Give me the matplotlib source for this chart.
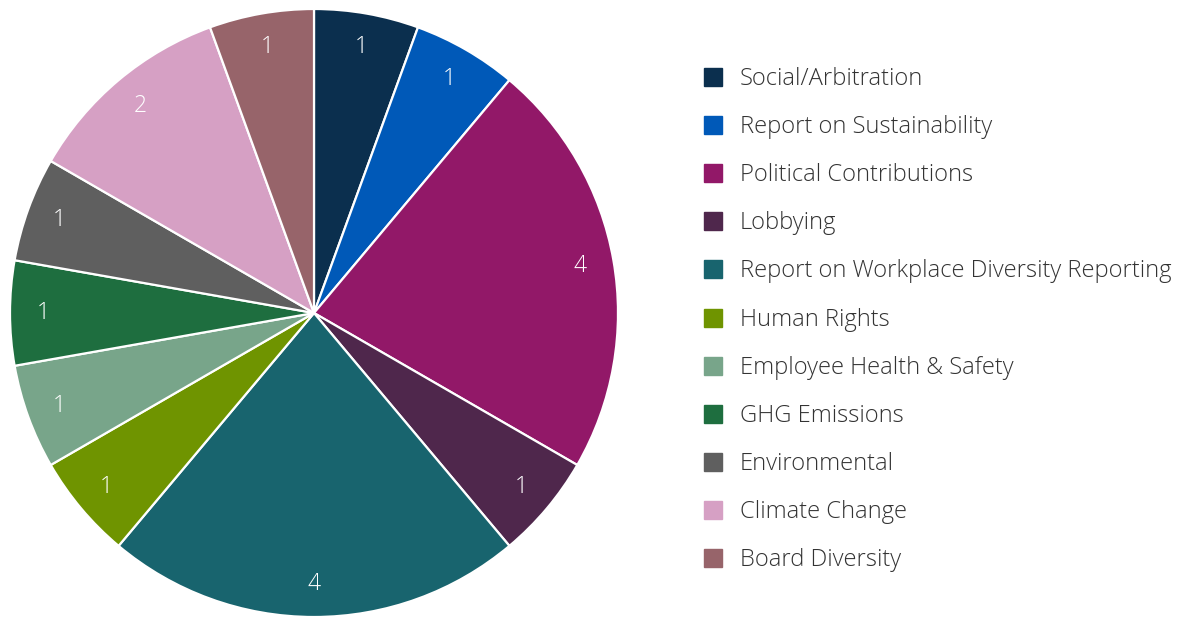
import matplotlib.pyplot as plt
from matplotlib.patches import Rectangle

categories = ["Social/Arbitration", "Report on Sustainability", "Political Contributions",
              "Lobbying", "Report on Workplace Diversity Reporting", "Human Rights",
              "Employee Health & Safety", "GHG Emissions", "Environmental",
              "Climate Change", "Board Diversity"]
counts = [1, 1, 4, 1, 4, 1, 1, 1, 1, 2, 1]
colors = ["#0b2f4e", "#0059b8", "#921868", "#4f274c", "#18646e", "#6f9400",
          "#78a58a", "#1e6e3f", "#5f5f5f", "#d6a0c4", "#97646a"]

plt.rcParams['font.family'] = ['Open Sans', 'DejaVu Sans']

W, H = 1178, 618
fig = plt.figure(figsize=(W / 100, H / 100), dpi=100)

# pie axes, centre ~ (314, 313) px, radius ~304 px
cx, cy, r = 314, 313, 304
ax = fig.add_axes([(cx - r) / W, (H - cy - r) / H, 2 * r / W, 2 * r / H])
wedges, texts = ax.pie(counts, colors=colors, startangle=90, counterclock=False,
                       labels=[str(c) for c in counts], labeldistance=0.89,
                       wedgeprops=dict(edgecolor="white", linewidth=1.6))
for t in texts:
    t.set_color("white")
    t.set_fontsize(16.5)
    t.set_fontweight("light")
    t.set_ha("center")
    t.set_va("center")
ax.set_xlim(-1, 1)
ax.set_ylim(-1, 1)
ax.set_aspect("equal")
ax.axis("off")

# legend drawn by hand
y0, dy = 77, 48.1
for i, (name, col) in enumerate(zip(categories, colors)):
    y = y0 + i * dy
    fig.patches.append(Rectangle((704 / W, (H - y - 9) / H), 18 / W, 18 / H,
                                 transform=fig.transFigure, color=col))
    fig.text(740 / W, (H - y - 2) / H, name, fontsize=17.1, color="#333333",
             fontweight="light", va="center", ha="left")

fig.savefig("out.png", dpi=100)
